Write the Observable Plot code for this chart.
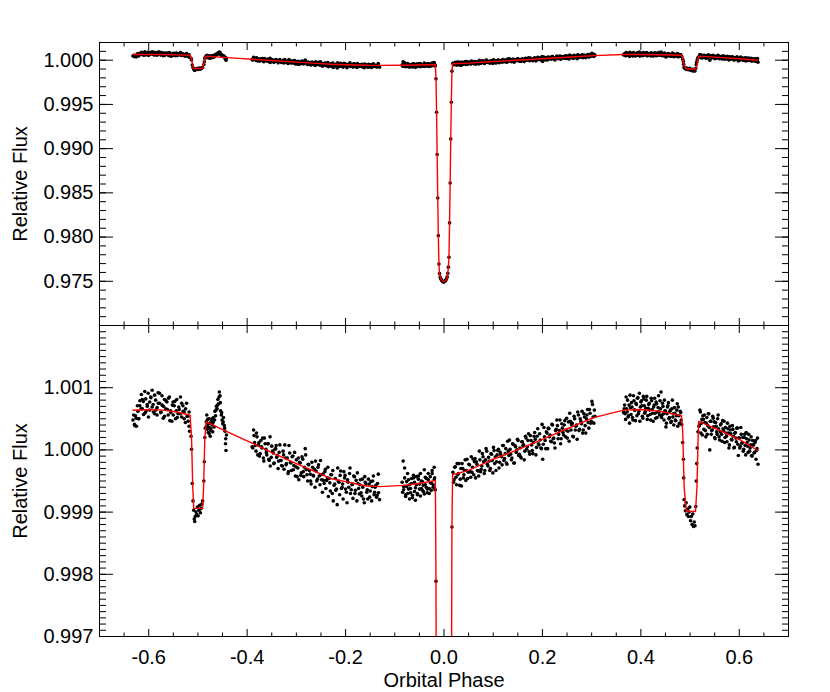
<!DOCTYPE html>
<html>
<head>
<meta charset="utf-8">
<script src="https://cdn.jsdelivr.net/npm/d3@7"></script>
<script src="https://cdn.jsdelivr.net/npm/@observablehq/plot@0.6"></script>
<style>
  body { margin: 0; background: #fff; }
  #chart { width: 830px; }
  #chart svg { display: block; overflow: visible; }
</style>
</head>
<body>
<div id="chart"></div>
<script>
// ---------- axes / ticks ----------
const xDomain = [-0.7, 0.7];
const topYDomain = [0.970, 1.002];
const bottomYDomain = [0.997, 1.002];
const xTickLabels = [-0.6, -0.4, -0.2, 0.0, 0.2, 0.4, 0.6];
const xMinorTicks = [-0.65, -0.55, -0.5, -0.45, -0.35, -0.3, -0.25, -0.15, -0.1, -0.05,
                     0.05, 0.1, 0.15, 0.25, 0.3, 0.35, 0.45, 0.5, 0.55, 0.65];
const topYTickLabels = [0.975, 0.980, 0.985, 0.990, 0.995, 1.000];
const bottomYTickLabels = [0.997, 0.998, 0.999, 1.000, 1.001];
const topYMinorTicks = d3.range(970, 1003).map(i => i / 1000);
const bottomYMinorTicks = d3.range(9970, 10021).map(i => i / 10000);

// ---------- observed light curve (phase, relative flux) ----------
const obsPreSecondaryA = [
  [-0.632,1.00048],[-0.629,1.00041],[-0.627,1.00055],[-0.625,1.00038],[-0.622,1.00062],
  [-0.620,1.00050],[-0.618,1.00071],[-0.615,1.00089],[-0.613,1.00066],[-0.611,1.00078],
  [-0.608,1.00059],[-0.606,1.00082],[-0.603,1.00070],[-0.601,1.00091],[-0.598,1.00064],
  [-0.596,1.00085],[-0.593,1.00096],[-0.591,1.00073],[-0.588,1.00058],[-0.586,1.00080],
  [-0.583,1.00068],[-0.581,1.00092],[-0.578,1.00075],[-0.575,1.00061],[-0.573,1.00087],
  [-0.570,1.00070],[-0.568,1.00054],[-0.565,1.00079],[-0.562,1.00065],[-0.560,1.00083],
  [-0.557,1.00047],[-0.555,1.00060],[-0.552,1.00072],[-0.550,1.00056],[-0.547,1.00078],
  [-0.544,1.00063],[-0.542,1.00052],[-0.539,1.00069],[-0.536,1.00058],[-0.533,1.00075],
  [-0.530,1.00062],[-0.528,1.00050],[-0.525,1.00066],[-0.522,1.00054],[-0.520,1.00046],
  [-0.518,1.00038],[-0.517,1.00030]
];
const obsPreSecondaryA2 = [
  [-0.6305,1.00056],[-0.6280,1.00039],[-0.6255,1.00051],[-0.6230,1.00071],[-0.6205,1.00050],
  [-0.6180,1.00079],[-0.6155,1.00066],[-0.6130,1.00081],[-0.6105,1.00057],[-0.6080,1.00094],
  [-0.6055,1.00062],[-0.6030,1.00073],[-0.6005,1.00053],[-0.5980,1.00077],[-0.5955,1.00084],
  [-0.5930,1.00069],[-0.5905,1.00061],[-0.5880,1.00088],[-0.5855,1.00064],[-0.5830,1.00056],
  [-0.5805,1.00075],[-0.5780,1.00091],[-0.5755,1.00060],[-0.5730,1.00072],[-0.5705,1.00051],
  [-0.5680,1.00081],[-0.5655,1.00066],[-0.5630,1.00077],[-0.5605,1.00056],[-0.5580,1.00085],
  [-0.5555,1.00063],[-0.5530,1.00046],[-0.5505,1.00077],[-0.5480,1.00071],[-0.5455,1.00050],
  [-0.5430,1.00081],[-0.5405,1.00058],[-0.5380,1.00065],[-0.5355,1.00085],[-0.5330,1.00053],
  [-0.5305,1.00071],[-0.5280,1.00061],[-0.5255,1.00044],[-0.5230,1.00075],[-0.5205,1.00054],
  [-0.5180,1.00061]
];
const obsSecondaryA = [
  [-0.5140,1.00022],[-0.5130,1.00001],[-0.5115,0.99946],[-0.5100,0.99918],[-0.5085,0.99903],
  [-0.5075,0.99889],[-0.5065,0.99885],[-0.5055,0.99893],[-0.5040,0.99900],[-0.5025,0.99896],
  [-0.5010,0.99908],[-0.4995,0.99894],[-0.4980,0.99903],[-0.4965,0.99911],[-0.4950,0.99899],
  [-0.4935,0.99906],[-0.4920,0.99913],[-0.4905,0.99918],[-0.4880,0.99950],[-0.4870,0.99981],
  [-0.4860,1.00020],[-0.4850,1.00035]
];
const obsPostSecondaryA = [
  [-0.4830,1.00045],[-0.4820,1.00056],[-0.4810,1.00033],[-0.4800,1.00041],[-0.4790,1.00028],
  [-0.4780,1.00050],[-0.4765,1.00036],[-0.4750,1.00022],[-0.4740,1.00031],[-0.4725,1.00046],
  [-0.4710,1.00040],[-0.4700,1.00029],[-0.4685,1.00052],[-0.4670,1.00037],[-0.4655,1.00062],
  [-0.4640,1.00055],[-0.4625,1.00070],[-0.4610,1.00066],[-0.4595,1.00081],[-0.4580,1.00074],
  [-0.4565,1.00093],[-0.4550,1.00087],[-0.4540,1.00063],[-0.4525,1.00056],[-0.4510,1.00048],
  [-0.4495,1.00042],[-0.4480,1.00052],[-0.4465,1.00039],[-0.4450,1.00030],[-0.4440,1.00010],
  [-0.4430,0.99999],[-0.4420,1.00024],
  [-0.4825,1.00038],[-0.4805,1.00049],[-0.4785,1.00035],[-0.4770,1.00026],[-0.4755,1.00043],
  [-0.4735,1.00034],[-0.4718,1.00050],[-0.4692,1.00044],[-0.4662,1.00048],[-0.4632,1.00064],
  [-0.4602,1.00072],[-0.4572,1.00085],[-0.4545,1.00076],[-0.4518,1.00060],[-0.4488,1.00045],
  [-0.4458,1.00035],[-0.4435,1.00018]
];
const obsDecline = [
  [-0.390,1.00005],[-0.387,1.00032],[-0.385,1.00012],[-0.382,0.99998],[-0.380,1.00021],
  [-0.377,1.00008],[-0.375,0.99990],[-0.372,1.00015],[-0.370,1.00003],[-0.367,0.99987],
  [-0.365,1.00019],[-0.362,1.00001],[-0.360,0.99992],[-0.357,1.00010],[-0.355,0.99983],
  [-0.353,0.99974],[-0.350,1.00006],[-0.347,0.99995],[-0.345,0.99979],[-0.342,1.00002],
  [-0.340,0.99988],[-0.337,0.99970],[-0.335,0.99996],[-0.332,0.99983],[-0.330,0.99975],
  [-0.327,0.99998],[-0.325,0.99969],[-0.322,0.99987],[-0.320,0.99978],[-0.317,0.99962],
  [-0.315,1.00007],[-0.312,0.99980],[-0.310,0.99967],[-0.307,0.99990],[-0.305,0.99975],
  [-0.302,0.99958],[-0.300,0.99984],[-0.297,0.99971],[-0.295,0.99952],[-0.292,0.99979],
  [-0.290,0.99963],[-0.287,0.99985],[-0.285,0.99957],[-0.282,1.00002],[-0.280,0.99968],
  [-0.277,0.99950],[-0.275,0.99976],[-0.272,0.99961],[-0.270,0.99945],[-0.267,0.99972],
  [-0.265,0.99958],[-0.262,0.99940],[-0.260,0.99966],[-0.257,0.99953],[-0.255,0.99976],
  [-0.252,0.99944],[-0.250,0.99960],[-0.247,0.99932],[-0.245,0.99951],[-0.242,0.99965],
  [-0.240,0.99938],[-0.237,0.99955],[-0.235,0.99925],[-0.232,0.99947],[-0.230,0.99960],
  [-0.227,0.99930],[-0.225,0.99918],[-0.222,0.99945],[-0.220,0.99935],[-0.217,0.99912],
  [-0.215,0.99950],[-0.212,0.99928],[-0.210,0.99966],[-0.207,0.99940],[-0.205,0.99921],
  [-0.202,0.99955],[-0.200,0.99937],[-0.197,0.99915],[-0.195,0.99948],[-0.192,0.99962],
  [-0.190,0.99930],[-0.187,0.99944],[-0.185,0.99922],[-0.182,0.99957],[-0.180,0.99935],
  [-0.177,0.99918],[-0.175,0.99946],[-0.172,0.99929],[-0.170,0.99952],[-0.167,0.99926],
  [-0.165,0.99940],[-0.162,0.99915],[-0.160,0.99948],[-0.157,0.99932],[-0.155,0.99921],
  [-0.152,0.99945],[-0.150,0.99934],[-0.147,0.99918],[-0.145,0.99950],[-0.142,0.99928],
  [-0.140,0.99940],[-0.137,0.99924],[-0.135,0.99946],[-0.133,0.99931],[-0.131,0.99920]
];
const obsDecline2 = [
  [-0.3885,1.00003],[-0.3860,1.00023],[-0.3835,1.00007],[-0.3810,1.00027],[-0.3785,0.99992],
  [-0.3760,1.00012],[-0.3735,0.99994],[-0.3710,1.00005],[-0.3685,1.00019],[-0.3660,0.99982],
  [-0.3635,1.00010],[-0.3610,0.99996],[-0.3585,1.00010],[-0.3560,0.99985],[-0.3535,1.00021],
  [-0.3510,0.99988],[-0.3485,0.99998],[-0.3460,0.99978],[-0.3435,1.00001],[-0.3410,1.00007],
  [-0.3385,0.99991],[-0.3360,0.99982],[-0.3335,1.00008],[-0.3310,0.99983],[-0.3285,0.99974],
  [-0.3260,0.99992],[-0.3235,1.00008],[-0.3210,0.99976],[-0.3185,0.99987],[-0.3160,0.99965],
  [-0.3135,0.99995],[-0.3110,0.99979],[-0.3085,0.99989],[-0.3060,0.99968],[-0.3035,0.99996],
  [-0.3010,0.99973],[-0.2985,0.99957],[-0.2960,0.99987],[-0.2935,0.99980],[-0.2910,0.99959],
  [-0.2885,0.99989],[-0.2860,0.99965],[-0.2835,0.99972],[-0.2810,0.99992],[-0.2785,0.99960],
  [-0.2760,0.99977],[-0.2735,0.99967],[-0.2710,0.99950],[-0.2685,0.99980],[-0.2660,0.99959],
  [-0.2635,0.99969],[-0.2610,0.99982],[-0.2585,0.99950],[-0.2560,0.99972],[-0.2535,0.99958],
  [-0.2510,0.99983],[-0.2485,0.99952],[-0.2460,0.99961],[-0.2435,0.99946],[-0.2410,0.99969],
  [-0.2385,0.99951],[-0.2360,0.99972],[-0.2335,0.99954],[-0.2310,0.99934],[-0.2285,0.99960],
  [-0.2260,0.99967],[-0.2235,0.99943],[-0.2210,0.99954],[-0.2185,0.99937],[-0.2160,0.99971],
  [-0.2135,0.99948],[-0.2110,0.99959],[-0.2085,0.99938],[-0.2060,0.99945],[-0.2035,0.99965],
  [-0.2010,0.99959],[-0.1985,0.99932],[-0.1960,0.99952],[-0.1935,0.99940],[-0.1910,0.99971],
  [-0.1885,0.99936],[-0.1860,0.99945],[-0.1835,0.99958],[-0.1810,0.99930],[-0.1785,0.99951],
  [-0.1760,0.99963],[-0.1735,0.99938],[-0.1710,0.99944],[-0.1685,0.99931],[-0.1660,0.99953],
  [-0.1635,0.99921],[-0.1610,0.99957],[-0.1585,0.99945],[-0.1560,0.99936],[-0.1535,0.99953],
  [-0.1510,0.99924],[-0.1485,0.99949],[-0.1460,0.99941],[-0.1435,0.99958],[-0.1410,0.99932],
  [-0.1385,0.99943],[-0.1360,0.99927],[-0.1335,0.99961]
];
const obsPrePrimary = [
  [-0.085,0.99948],[-0.083,0.99982],[-0.082,0.99936],[-0.080,0.99971],[-0.078,0.99925],
  [-0.076,0.99941],[-0.074,0.99930],[-0.072,0.99952],[-0.070,0.99921],[-0.068,0.99938],
  [-0.066,0.99946],[-0.064,0.99927],[-0.062,0.99955],[-0.060,0.99933],[-0.058,0.99919],
  [-0.056,0.99944],[-0.054,0.99930],[-0.052,0.99958],[-0.050,0.99937],[-0.048,0.99926],
  [-0.046,0.99950],[-0.044,0.99935],[-0.042,0.99943],[-0.040,0.99929],[-0.038,0.99956],
  [-0.036,0.99940],[-0.034,0.99931],[-0.032,0.99952],[-0.030,0.99938],[-0.028,0.99947],
  [-0.026,0.99935],[-0.024,0.99962],[-0.022,0.99944],[-0.020,0.99972],[-0.019,0.99955],
  [-0.018,0.99936]
];
const obsPrePrimary2 = [
  [-0.0840,0.99932],[-0.0820,0.99941],[-0.0800,0.99955],[-0.0780,0.99928],[-0.0760,0.99949],
  [-0.0740,0.99962],[-0.0720,0.99937],[-0.0700,0.99944],[-0.0680,0.99931],[-0.0660,0.99954],
  [-0.0640,0.99923],[-0.0620,0.99959],[-0.0600,0.99948],[-0.0580,0.99939],[-0.0560,0.99957],
  [-0.0540,0.99928],[-0.0520,0.99953],[-0.0500,0.99945],[-0.0480,0.99962],[-0.0460,0.99938],
  [-0.0440,0.99949],[-0.0420,0.99933],[-0.0400,0.99968],[-0.0380,0.99944],[-0.0360,0.99954],
  [-0.0340,0.99937],[-0.0320,0.99962],[-0.0300,0.99930],[-0.0280,0.99957],[-0.0260,0.99947],
  [-0.0240,0.99967],[-0.0220,0.99940],[-0.0200,0.99952],[-0.0180,0.99936]
];
const obsPrimary = [
  [-0.0163,0.99789],[-0.0151,0.99412],[-0.0139,0.98933],[-0.0127,0.98442],[-0.0115,0.98016],
  [-0.0103,0.97696],[-0.0091,0.97587],[-0.0079,0.97548],[-0.0067,0.97530],[-0.0055,0.97518],
  [-0.0043,0.97508],[-0.0031,0.97500],[-0.0019,0.97495],[-0.0007,0.97492],[0.0005,0.97494],
  [0.0017,0.97499],[0.0029,0.97507],[0.0041,0.97517],[0.0053,0.97531],[0.0065,0.97552],
  [0.0077,0.97590],[0.0089,0.97660],[0.0101,0.97772],[0.0113,0.98160],[0.0125,0.98612],
  [0.0137,0.99110],[0.0149,0.99525],[0.0161,0.99876]
];
const obsRise = [
  [0.0180,0.99964],[0.0205,0.99952],[0.0230,0.99973],[0.0255,0.99944],[0.0280,0.99960],
  [0.0305,0.99978],[0.0330,0.99953],[0.0355,0.99942],[0.0380,0.99970],[0.0405,0.99960],
  [0.0430,0.99984],[0.0455,0.99967],[0.0480,0.99954],[0.0505,0.99977],[0.0530,0.99965],
  [0.0555,0.99989],[0.0580,0.99972],[0.0605,0.99960],[0.0630,0.99986],[0.0655,0.99981],
  [0.0680,0.99967],[0.0705,0.99958],[0.0730,0.99984],[0.0755,0.99969],[0.0780,0.99994],
  [0.0805,0.99981],[0.0830,0.99967],[0.0855,1.00002],[0.0880,0.99977],[0.0905,0.99988],
  [0.0930,0.99967],[0.0955,0.99994],[0.0980,0.99983],[0.1005,1.00004],[0.1030,0.99978],
  [0.1055,0.99967],[0.1080,0.99992],[0.1105,1.00001],[0.1130,0.99980],[0.1155,0.99992],
  [0.1180,0.99976],[0.1205,1.00007],[0.1230,0.99986],[0.1255,1.00002],[0.1280,0.99977],
  [0.1305,0.99998],[0.1330,1.00016],[0.1355,0.99993],[0.1380,0.99987],[0.1405,1.00009],
  [0.1430,0.99979],[0.1455,1.00005],[0.1480,1.00000],[0.1505,1.00015],[0.1530,0.99993],
  [0.1555,0.99989],[0.1580,1.00013],[0.1605,1.00007],[0.1630,0.99984],[0.1655,1.00022],
  [0.1680,1.00001],[0.1705,1.00015],[0.1730,0.99997],[0.1755,1.00023],[0.1780,1.00008],
  [0.1805,0.99994],[0.1830,1.00022],[0.1855,1.00017],[0.1880,1.00004],[0.1905,1.00034],
  [0.1930,1.00008],[0.1955,1.00016],[0.1980,1.00002],[0.2005,0.99985],[0.2030,1.00036],
  [0.2055,1.00015],[0.2080,1.00029],[0.2105,1.00002],[0.2130,1.00034],[0.2155,1.00024],
  [0.2180,1.00013],[0.2205,1.00040],[0.2230,1.00019],[0.2255,1.00003],[0.2280,1.00033],
  [0.2305,1.00039],[0.2330,1.00025],[0.2355,1.00048],[0.2380,1.00018],[0.2405,1.00035],
  [0.2430,1.00024],[0.2455,1.00047],[0.2480,1.00032],[0.2505,1.00019],[0.2530,1.00045],
  [0.2555,1.00059],[0.2580,1.00032],[0.2605,1.00043],[0.2630,1.00021],[0.2655,1.00050],
  [0.2680,1.00038],[0.2705,1.00017],[0.2730,1.00056],[0.2755,1.00033],[0.2780,1.00046],
  [0.2805,1.00062],[0.2830,1.00032],[0.2855,1.00053],[0.2880,1.00027],[0.2905,1.00056],
  [0.2930,1.00044],[0.2955,1.00065],[0.2980,1.00043],[0.3005,1.00078],[0.3030,1.00053],
  [0.3055,1.00064]
];
const obsRise2 = [
  [0.0193,0.99948],[0.0218,0.99972],[0.0243,0.99956],[0.0268,0.99978],[0.0293,0.99962],
  [0.0318,0.99943],[0.0343,0.99970],[0.0368,0.99978],[0.0393,0.99955],[0.0418,0.99967],
  [0.0443,0.99951],[0.0468,0.99985],[0.0493,0.99964],[0.0518,0.99976],[0.0543,0.99956],
  [0.0568,0.99964],[0.0593,0.99985],[0.0618,0.99981],[0.0643,0.99955],[0.0668,0.99977],
  [0.0693,0.99966],[0.0718,0.99998],[0.0743,0.99965],[0.0768,0.99974],[0.0793,0.99989],
  [0.0818,0.99962],[0.0843,0.99984],[0.0868,0.99998],[0.0893,0.99974],[0.0918,0.99982],
  [0.0943,0.99970],[0.0968,0.99993],[0.0993,0.99963],[0.1018,0.99999],[0.1043,0.99989],
  [0.1068,0.99981],[0.1093,0.99999],[0.1118,0.99971],[0.1143,0.99996],[0.1168,0.99989],
  [0.1193,1.00007],[0.1218,0.99983],[0.1243,0.99994],[0.1268,0.99979],[0.1293,1.00014],
  [0.1318,0.99991],[0.1343,1.00001],[0.1368,0.99984],[0.1393,1.00010],[0.1418,0.99979],
  [0.1443,1.00007],[0.1468,0.99996],[0.1493,1.00017],[0.1518,0.99991],[0.1543,1.00003],
  [0.1568,0.99987],[0.1593,1.00013],[0.1618,1.00008],[0.1643,0.99998],[0.1668,1.00019],
  [0.1693,1.00005],[0.1718,1.00026],[0.1743,0.99993],[0.1768,1.00015],[0.1793,0.99999],
  [0.1818,1.00012],[0.1843,1.00028],[0.1868,0.99992],[0.1893,1.00022],[0.1918,1.00010],
  [0.1943,1.00026],[0.1968,1.00003],[0.1993,1.00041],[0.2018,1.00009],[0.2043,1.00021],
  [0.2068,1.00002],[0.2093,1.00027],[0.2118,1.00035],[0.2143,1.00021],[0.2168,1.00014],
  [0.2193,1.00041],[0.2218,1.00018],[0.2243,1.00011],[0.2268,1.00031],[0.2293,1.00048],
  [0.2318,1.00018],[0.2343,1.00031],[0.2368,1.00010],[0.2393,1.00042],[0.2418,1.00028],
  [0.2443,1.00040],[0.2468,1.00021],[0.2493,1.00051],[0.2518,1.00030],[0.2543,1.00014],
  [0.2568,1.00046],[0.2593,1.00041],[0.2618,1.00022],[0.2643,1.00054],[0.2668,1.00032],
  [0.2693,1.00040],[0.2718,1.00061],[0.2743,1.00031],[0.2768,1.00050],[0.2793,1.00042],
  [0.2818,1.00027],[0.2843,1.00058],[0.2868,1.00039],[0.2893,1.00050],[0.2918,1.00065],
  [0.2943,1.00035],[0.2968,1.00059],[0.2993,1.00046],[0.3018,1.00073],[0.3043,1.00043],
  [0.3068,1.00054]
];
const obsPreSecondaryB = [
  [0.365,1.00060],[0.367,1.00072],[0.369,1.00049],[0.371,1.00066],[0.373,1.00080],
  [0.375,1.00055],[0.377,1.00043],[0.379,1.00068],[0.381,1.00076],[0.383,1.00052],
  [0.385,1.00087],[0.387,1.00064],[0.389,1.00047],[0.391,1.00073],[0.393,1.00083],
  [0.395,1.00058],[0.397,1.00091],[0.399,1.00069],[0.401,1.00079],[0.403,1.00054],
  [0.405,1.00086],[0.407,1.00071],[0.409,1.00062],[0.411,1.00080],[0.413,1.00049],
  [0.415,1.00067],[0.417,1.00075],[0.419,1.00057],[0.421,1.00083],[0.423,1.00065],
  [0.425,1.00046],[0.427,1.00072],[0.429,1.00059],[0.431,1.00077],[0.433,1.00052],
  [0.435,1.00068],[0.437,1.00061],[0.439,1.00079],[0.441,1.00093],[0.443,1.00056],
  [0.445,1.00070],[0.447,1.00048],[0.449,1.00063],[0.451,1.00037],[0.453,1.00058],
  [0.455,1.00071],[0.457,1.00050],[0.459,1.00062],[0.461,1.00044],[0.463,1.00066],
  [0.465,1.00053],[0.467,1.00040],[0.469,1.00059],[0.471,1.00047],[0.473,1.00064],
  [0.475,1.00038],[0.477,1.00055],[0.479,1.00043],[0.481,1.00060],[0.482,1.00048]
];
const obsPreSecondaryB2 = [
  [0.366,1.00066],[0.368,1.00058],[0.370,1.00085],[0.372,1.00061],[0.374,1.00053],
  [0.376,1.00072],[0.378,1.00088],[0.380,1.00057],[0.382,1.00069],[0.384,1.00048],
  [0.386,1.00079],[0.388,1.00064],[0.390,1.00075],[0.392,1.00055],[0.394,1.00084],
  [0.396,1.00062],[0.398,1.00046],[0.400,1.00077],[0.402,1.00071],[0.404,1.00051],
  [0.406,1.00082],[0.408,1.00059],[0.410,1.00067],[0.412,1.00086],[0.414,1.00055],
  [0.416,1.00073],[0.418,1.00064],[0.420,1.00048],[0.422,1.00079],[0.424,1.00059],
  [0.426,1.00069],[0.428,1.00083],[0.430,1.00051],[0.432,1.00074],[0.434,1.00061],
  [0.436,1.00087],[0.438,1.00056],[0.440,1.00066],[0.442,1.00052],[0.444,1.00075],
  [0.446,1.00058],[0.448,1.00080],[0.450,1.00062],[0.452,1.00043],[0.454,1.00069],
  [0.456,1.00076],[0.458,1.00052],[0.460,1.00064],[0.462,1.00046],[0.464,1.00080],
  [0.466,1.00058],[0.468,1.00068],[0.470,1.00048],[0.472,1.00055],[0.474,1.00074],
  [0.476,1.00069],[0.478,1.00042],[0.480,1.00062]
];
const obsSecondaryB = [
  [0.4830,1.00041],[0.4850,1.00012],[0.4865,0.99985],[0.4870,0.99955],[0.4880,0.99920],
  [0.4890,0.99910],[0.4905,0.99902],[0.4920,0.99915],[0.4935,0.99896],[0.4950,0.99905],
  [0.4965,0.99893],[0.4980,0.99900],[0.4995,0.99908],[0.5010,0.99886],[0.5025,0.99893],
  [0.5040,0.99880],[0.5055,0.99897],[0.5070,0.99877],[0.5085,0.99884],[0.5100,0.99878],
  [0.5115,0.99909],[0.5125,0.99950],[0.5135,0.99978],[0.5145,1.00003],[0.5160,1.00029]
];
const obsPostSecondaryB = [
  [0.518,1.00038],[0.520,1.00064],[0.522,1.00027],[0.524,1.00049],[0.526,1.00055],
  [0.528,1.00033],[0.530,1.00044],[0.532,1.00021],[0.534,1.00052],[0.536,1.00039],
  [0.538,1.00058],[0.540,1.00000],[0.542,1.00046],[0.544,1.00031],[0.546,1.00054],
  [0.548,1.00037],[0.550,1.00020],[0.552,1.00044],[0.554,1.00029],[0.556,1.00050],
  [0.558,1.00034],[0.560,1.00016],[0.562,1.00040],[0.564,1.00025],[0.566,1.00047],
  [0.568,1.00031],[0.570,1.00012],[0.572,1.00036],[0.574,1.00022],[0.576,1.00043],
  [0.578,1.00027],[0.580,1.00008],[0.582,1.00032],[0.584,1.00017],[0.586,1.00039],
  [0.588,1.00022],[0.590,1.00004],[0.592,1.00028],[0.594,1.00013],[0.596,1.00035],
  [0.598,0.99991],[0.600,1.00019],[0.602,1.00006],[0.604,1.00025],[0.606,1.00011],
  [0.608,0.99998],[0.610,1.00020],[0.612,1.00007],[0.614,1.00028],[0.616,1.00012],
  [0.618,0.99996],[0.620,1.00016],[0.622,1.00003],[0.624,1.00021],[0.626,0.99990],
  [0.628,1.00008],[0.630,0.99995],[0.632,1.00012],[0.634,0.99985],[0.636,1.00002],
  [0.638,0.99977]
];
const obsPostSecondaryB2 = [
  [0.519,1.00040],[0.521,1.00061],[0.523,1.00043],[0.525,1.00024],[0.527,1.00049],
  [0.529,1.00056],[0.531,1.00031],[0.533,1.00043],[0.535,1.00025],[0.537,1.00058],
  [0.539,1.00036],[0.541,1.00046],[0.543,1.00025],[0.545,1.00032],[0.547,1.00051],
  [0.549,1.00045],[0.551,1.00018],[0.553,1.00038],[0.555,1.00025],[0.557,1.00056],
  [0.559,1.00021],[0.561,1.00029],[0.563,1.00042],[0.565,1.00014],[0.567,1.00034],
  [0.569,1.00046],[0.571,1.00020],[0.573,1.00027],[0.575,1.00013],[0.577,1.00034],
  [0.579,1.00003],[0.581,1.00038],[0.583,1.00026],[0.585,1.00016],[0.587,1.00033],
  [0.589,1.00003],[0.591,1.00027],[0.593,1.00019],[0.595,1.00035],[0.597,1.00009],
  [0.599,1.00019],[0.601,1.00003],[0.603,1.00036],[0.605,1.00011],[0.607,1.00020],
  [0.609,1.00001],[0.611,1.00025],[0.613,0.99992],[0.615,1.00018],[0.617,1.00006],
  [0.619,1.00025],[0.621,0.99998],[0.623,1.00008],[0.625,0.99991],[0.627,1.00015],
  [0.629,1.00008],[0.631,0.99996],[0.633,1.00015],[0.635,0.99999],[0.637,1.00019]
];

// ---------- model light curve (phase, relative flux) ----------
const modelCurve = [
  [-0.632,1.000637],[-0.600,1.000648],[-0.570,1.000640],[-0.540,1.000605],[-0.516,1.000557],
  [-0.5130,1.00020],[-0.5105,0.99940],[-0.5085,0.99906],[-0.4905,0.99906],[-0.4885,0.99940],
  [-0.4860,1.00020],[-0.4830,1.00045],[-0.4400,1.00029],[-0.3900,1.00011],[-0.3530,0.99997],
  [-0.3000,0.99978],[-0.2500,0.99961],[-0.2310,0.99954],[-0.2000,0.99949],[-0.1570,0.99942],
  [-0.1310,0.99941],[-0.0830,0.99943],[-0.0500,0.99946],[-0.0175,0.99951],
  [-0.0163,0.99789],[-0.0151,0.99412],[-0.0139,0.98933],[-0.0127,0.98442],[-0.0115,0.98016],
  [-0.0103,0.97696],[-0.0091,0.97587],[-0.0075,0.97545],[-0.0050,0.97515],[-0.0025,0.97502],
  [0.0000,0.97496],[0.0025,0.97502],[0.0050,0.97520],[0.0070,0.97560],[0.0089,0.97660],
  [0.0101,0.97772],[0.0113,0.98160],[0.0125,0.98612],[0.0137,0.99110],[0.0149,0.99525],
  [0.0161,0.99876],[0.0175,0.99960],[0.0500,0.99967],[0.1000,0.99985],[0.1550,1.00002],
  [0.2000,1.00017],[0.2500,1.00034],[0.3040,1.00052],[0.3650,1.00064],[0.4000,1.00065],
  [0.4400,1.00062],[0.4823,1.00055],[0.4850,1.00030],[0.4880,0.99940],[0.4925,0.99901],
  [0.5110,0.99901],[0.5140,0.99940],[0.5165,1.00025],[0.5175,1.00046],[0.5500,1.00035],
  [0.6000,1.00017],[0.6375,0.99999]
];

const observed = [
  ...obsPreSecondaryA, ...obsPreSecondaryA2, ...obsSecondaryA, ...obsPostSecondaryA,
  ...obsDecline, ...obsDecline2, ...obsPrePrimary, ...obsPrePrimary2, ...obsPrimary,
  ...obsRise, ...obsRise2, ...obsPreSecondaryB, ...obsPreSecondaryB2,
  ...obsSecondaryB, ...obsPostSecondaryB, ...obsPostSecondaryB2
].map(([phase, flux]) => ({phase, flux}));
const model = modelCurve.map(([phase, flux]) => ({phase, flux}));

// ---------- drawing ----------
const font = "'Liberation Sans', Arial, Helvetica, sans-serif";
const blank = () => "";

function inwardTicks(yMajor, yMinor) {
  return [
    Plot.axisY(yMajor, {anchor: "left", tickSize: 14, dx: 14, tickFormat: blank, label: null}),
    Plot.axisY(yMinor, {anchor: "left", tickSize: 7, dx: 7, tickFormat: blank, label: null}),
    Plot.axisY(yMajor, {anchor: "right", tickSize: 14, dx: -14, tickFormat: blank, label: null}),
    Plot.axisY(yMinor, {anchor: "right", tickSize: 7, dx: -7, tickFormat: blank, label: null}),
    Plot.axisX(xTickLabels, {anchor: "top", tickSize: 7, dy: 7, tickFormat: blank, label: null}),
    Plot.axisX(xMinorTicks, {anchor: "top", tickSize: 3.5, dy: 3.5, tickFormat: blank, label: null}),
    Plot.axisX(xTickLabels, {anchor: "bottom", tickSize: 7, dy: -7, tickFormat: blank, label: null}),
    Plot.axisX(xMinorTicks, {anchor: "bottom", tickSize: 3.5, dy: -3.5, tickFormat: blank, label: null})
  ];
}

const dotR = 1.8;

const topPlot = Plot.plot({
  width: 830, height: 325,
  marginLeft: 99, marginRight: 42, marginTop: 42, marginBottom: 0,
  style: {fontFamily: font, fontSize: "20px", color: "black", background: "transparent"},
  x: {domain: xDomain},
  y: {domain: topYDomain},
  marks: [
    Plot.dot(observed, {x: "phase", y: "flux", r: dotR, fill: "black", stroke: "none", clip: true}),
    Plot.line(model, {x: "phase", y: "flux", stroke: "#ff0000", strokeWidth: 1.4, clip: true}),
    Plot.frame({stroke: "black"}),
    ...inwardTicks(topYTickLabels, topYMinorTicks),
    Plot.axisY(topYTickLabels, {anchor: "left", tickSize: 0, tickPadding: 6, fontSize: 20,
      tickFormat: d => d.toFixed(3), label: "Relative Flux", labelAnchor: "center",
      labelOffset: 87, labelArrow: "none"})
  ]
});

const bottomPlot = Plot.plot({
  width: 830, height: 367,
  marginLeft: 99, marginRight: 42, marginTop: 0, marginBottom: 56,
  style: {fontFamily: font, fontSize: "20px", color: "black", background: "transparent"},
  x: {domain: xDomain},
  y: {domain: bottomYDomain},
  marks: [
    Plot.dot(observed, {x: "phase", y: "flux", r: dotR, fill: "black", stroke: "none", clip: true}),
    Plot.line(model, {x: "phase", y: "flux", stroke: "#ff0000", strokeWidth: 1.4, clip: true}),
    Plot.frame({stroke: "black"}),
    ...inwardTicks(bottomYTickLabels, bottomYMinorTicks),
    Plot.axisY(bottomYTickLabels, {anchor: "left", tickSize: 0, tickPadding: 6, fontSize: 20,
      tickFormat: d => d.toFixed(3), label: "Relative Flux", labelAnchor: "center",
      labelOffset: 87, labelArrow: "none"}),
    Plot.axisX(xTickLabels, {anchor: "bottom", tickSize: 0, tickPadding: 13, fontSize: 20,
      tickFormat: d => d.toFixed(1), label: "Orbital Phase", labelAnchor: "center",
      labelOffset: 50, labelArrow: "none"})
  ]
});

const chart = document.getElementById("chart");
chart.appendChild(topPlot);
chart.appendChild(bottomPlot);
</script>
</body>
</html>
